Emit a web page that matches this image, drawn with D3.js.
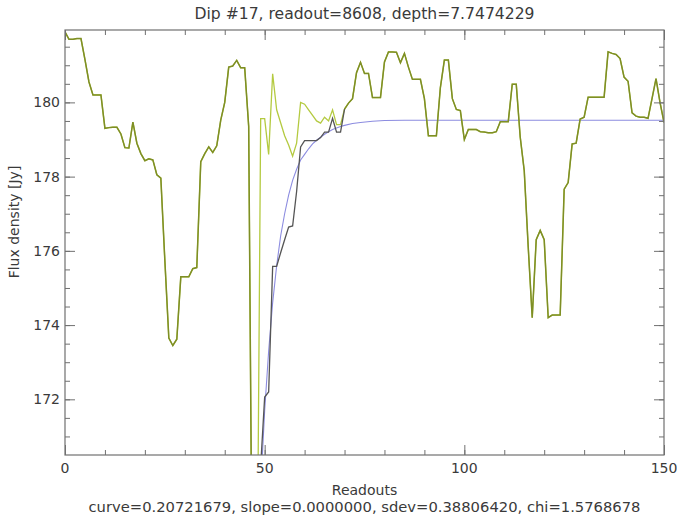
<!DOCTYPE html>
<html><head><meta charset="utf-8">
<script src="https://cdn.jsdelivr.net/npm/d3@7"></script>
<style>body{margin:0;background:#fff}svg{display:block}text{font-family:"DejaVu Sans",sans-serif;fill:#3a3a3a}</style>
</head><body><svg id="c" width="677" height="517"></svg>
<script>
const titleText = "Dip #17, readout=8608, depth=7.7474229";
const xTitle = "Readouts";
const yTitle = "Flux density [Jy]";
const footText = "curve=0.20721679, slope=0.0000000, sdev=0.38806420, chi=1.5768678";
const xMajor = [0, 50, 100, 150];
const yMajor = [172, 174, 176, 178, 180];
// raw flux per readout 0..150
const raw = [181.90,181.70,181.70,181.72,181.72,181.15,180.55,180.20,180.20,180.20,
179.30,179.32,179.33,179.33,179.15,178.78,178.77,179.47,178.90,178.62,
178.43,178.48,178.45,178.05,177.96,175.75,173.65,173.45,173.62,175.30,
175.30,175.30,175.52,175.55,178.40,178.62,178.80,178.65,178.83,179.52,
180.00,180.95,180.98,181.13,180.93,180.93,179.35,165.00,165.00,179.56,
179.56,178.60,180.77,179.80,179.45,179.10,178.85,178.55,178.90,180.00,
179.95,179.80,179.65,179.50,179.44,179.60,179.50,179.80,179.40,179.40,
179.82,179.98,180.10,180.80,181.08,180.78,180.78,180.13,180.13,180.13,
181.09,181.36,181.36,181.35,181.07,181.32,180.95,180.62,180.62,180.62,
180.10,179.10,179.10,179.10,180.40,181.14,181.14,180.10,179.81,179.78,
179.00,179.27,179.27,179.27,179.21,179.20,179.18,179.18,179.21,179.48,
179.48,179.48,180.49,180.49,179.06,178.16,176.10,174.20,176.30,176.55,
176.30,174.20,174.27,174.27,174.27,177.66,177.84,178.88,178.90,179.55,
179.60,180.14,180.14,180.14,180.14,180.14,181.36,181.32,181.29,181.18,
180.68,180.57,179.72,179.63,179.60,179.60,179.57,180.10,180.64,180.00,179.46];
// corrected flux where it differs from raw
const corrX = [49,50,51,52,53,54,55,56,57,58,59,60,61,62,63,64,65,66,67,68,69];
const corrY = [170.2,172.06,172.2,175.58,175.58,175.95,176.3,176.64,176.67,177.6,178.8,178.97,178.97,178.97,178.97,179.05,179.2,179.2,179.57,179.2,179.2];
// fitted recovery curve
const fitX = [48,49,50,51,52,53,54,55,56,57,58,59,60,61,62,63,64,65,66,67,68,69,70,72,74,77,80,85,150];
const fitY = [167.0,169.6,171.7,173.3,174.6,175.6,176.4,177.0,177.5,177.9,178.2,178.45,178.6,178.75,178.88,178.98,179.06,179.14,179.21,179.27,179.31,179.35,179.38,179.43,179.46,179.49,179.51,179.52,179.52];

const L = 65, R = 664, T = 30, B = 455;
const svg = d3.select("#c");
const x = d3.scaleLinear().domain([0,150]).range([L,R]);
const y = d3.scaleLinear().domain([170.5,181.95]).range([B,T]);

svg.append("clipPath").attr("id","pc").append("rect").attr("x",L).attr("y",T).attr("width",R-L).attr("height",B-T);
const g = svg.append("g").attr("clip-path","url(#pc)");

const rawPts = raw.map((v,i)=>[i,v]);
const isCorr = i => corrX.indexOf(i) >= 0;
const corrPts = raw.map((v,i)=>{const k=corrX.indexOf(i);return [i, k>=0?corrY[k]:v];});
const fitPts = fitX.map((v,i)=>[v,fitY[i]]);
const line = d3.line().x(d=>x(d[0])).y(d=>y(d[1]));
const sameLine = d3.line().x(d=>x(d[0])).y(d=>y(d[1])).defined(d=>!isCorr(d[0]));
const diffLine = d3.line().x(d=>x(d[0])).y(d=>y(d[1])).defined(d=>isCorr(d[0])||isCorr(d[0]-1)||isCorr(d[0]+1));

g.append("path").datum(fitPts).attr("d",line).attr("fill","none").attr("stroke","#8c8ce0").attr("stroke-width",1.1);
g.append("path").datum(rawPts).attr("d",line).attr("fill","none").attr("stroke","#b4ca40").attr("stroke-width",1.3);
g.append("path").datum(corrPts).attr("d",sameLine).attr("fill","none").attr("stroke","#7e8e26").attr("stroke-width",1.5);
g.append("path").datum(corrPts).attr("d",diffLine).attr("fill","none").attr("stroke","#555555").attr("stroke-width",1.3);

// axes (IDL style: inward ticks on all four sides)
const axCol = "#707070";
svg.append("g").attr("transform",`translate(0,${B})`).call(d3.axisTop(x).tickValues(d3.range(0,151,10)).tickSize(5).tickFormat(""));
svg.append("g").attr("transform",`translate(0,${B})`).call(d3.axisTop(x).tickValues(xMajor).tickSize(10).tickFormat(""));
svg.append("g").attr("transform",`translate(0,${T})`).call(d3.axisBottom(x).tickValues(d3.range(0,151,10)).tickSize(5).tickFormat(""));
svg.append("g").attr("transform",`translate(0,${T})`).call(d3.axisBottom(x).tickValues(xMajor).tickSize(10).tickFormat(""));
const yMinor = d3.range(171,182,0.5);
svg.append("g").attr("transform",`translate(${L},0)`).call(d3.axisRight(y).tickValues(yMinor).tickSize(5).tickFormat(""));
svg.append("g").attr("transform",`translate(${L},0)`).call(d3.axisRight(y).tickValues(yMajor).tickSize(10).tickFormat(""));
svg.append("g").attr("transform",`translate(${R},0)`).call(d3.axisLeft(y).tickValues(yMinor).tickSize(5).tickFormat(""));
svg.append("g").attr("transform",`translate(${R},0)`).call(d3.axisLeft(y).tickValues(yMajor).tickSize(10).tickFormat(""));
svg.selectAll(".domain").remove();
svg.selectAll(".tick line").attr("stroke",axCol).attr("stroke-width",1);
svg.append("rect").attr("x",L).attr("y",T).attr("width",R-L).attr("height",B-T).attr("fill","none").attr("stroke",axCol).attr("stroke-width",1.2);

// tick labels
svg.append("g").selectAll("text").data(xMajor).join("text")
  .attr("x",d=>x(d)).attr("y",B+18).attr("text-anchor","middle").attr("font-size",14).text(d=>d);
svg.append("g").selectAll("text").data(yMajor).join("text")
  .attr("x",L-5).attr("y",d=>y(d)+5).attr("text-anchor","end").attr("font-size",14).text(d=>d);

svg.append("text").attr("x",(L+R)/2).attr("y",19).attr("text-anchor","middle").attr("font-size",15)
  .attr("textLength",340).attr("lengthAdjust","spacingAndGlyphs").text(titleText);
svg.append("text").attr("x",(L+R)/2).attr("y",495).attr("text-anchor","middle").attr("font-size",14).text(xTitle);
svg.append("text").attr("x",(L+R)/2).attr("y",512).attr("text-anchor","middle").attr("font-size",14)
  .attr("textLength",552).attr("lengthAdjust","spacingAndGlyphs").text(footText);
svg.append("text").attr("transform",`translate(19,222) rotate(-90)`).attr("text-anchor","middle").attr("font-size",14).text(yTitle);
</script></body></html>
